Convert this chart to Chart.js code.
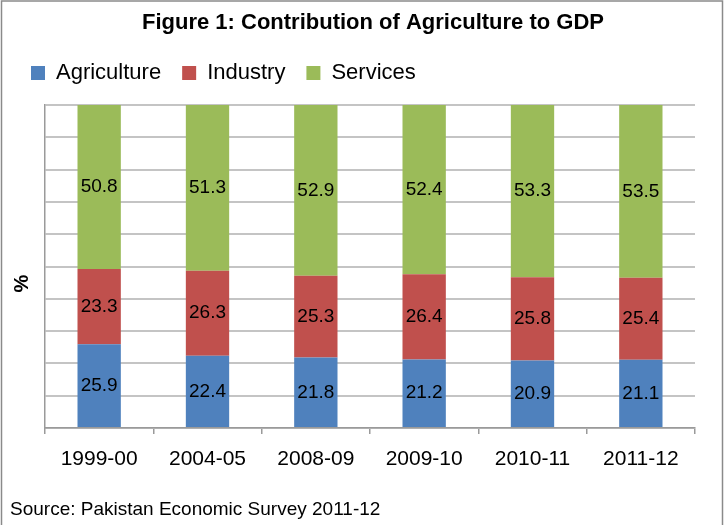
<!DOCTYPE html>
<html>
<head>
<meta charset="utf-8">
<script src="https://cdn.jsdelivr.net/npm/chart.js@4"></script>
<style>
  html, body { margin: 0; padding: 0; background: #fff; }
  #wrap { width: 724px; height: 525px; }
</style>
</head>
<body>
<div id="wrap"><canvas id="chart"></canvas></div>
<script>
const years = ["1999-00", "2004-05", "2008-09", "2009-10", "2010-11", "2011-12"];
const agriculture = [25.9, 22.4, 21.8, 21.2, 20.9, 21.1];
const industry = [23.3, 26.3, 25.3, 26.4, 25.8, 25.4];
const services = [50.8, 51.3, 52.9, 52.4, 53.3, 53.5];

const FONT = "'Liberation Sans', Arial, sans-serif";

// frame, heading, "%" label and the values inside the bar segments
const extras = {
    id: "extras",
    beforeLayout(chart) {
        // a bit more room between legend and plot than chart.js gives
        const legend = chart.legend;
        if (legend && !legend._patched) {
            const fit = legend.fit;
            legend.fit = function () {
                fit.call(this);
                this.height += 11;
            };
            legend._patched = true;
        }
    },
    beforeDraw(chart) {
        const ctx = chart.ctx;
        ctx.save();
        ctx.fillStyle = "#fff";
        ctx.fillRect(0, 0, chart.width, chart.height);
        ctx.strokeStyle = "#8a8a8a";
        ctx.lineWidth = 1.5;
        ctx.strokeRect(1.5, 1, chart.width - 3, chart.height + 10);
        ctx.restore();
    },
    afterDatasetsDraw(chart) {
        const ctx = chart.ctx;
        ctx.save();
        ctx.font = `19px ${FONT}`;
        ctx.fillStyle = "#000";
        ctx.textAlign = "center";
        ctx.textBaseline = "middle";
        chart.data.datasets.forEach((ds, i) => {
            chart.getDatasetMeta(i).data.forEach((bar, j) => {
                const { x, y, base } = bar.getProps(["x", "y", "base"], true);
                ctx.fillText(ds.data[j].toFixed(1), x, (y + base) / 2);
            });
        });
        ctx.restore();
    },
    afterDraw(chart) {
        const { ctx, chartArea } = chart;
        ctx.save();
        ctx.fillStyle = "#000";
        ctx.textAlign = "center";
        ctx.textBaseline = "middle";
        ctx.font = `bold 22px ${FONT}`;
        ctx.fillText("Figure 1: Contribution of Agriculture to GDP", 373, 23);
        ctx.translate(chartArea.left - 23, (chartArea.top + chartArea.bottom) / 2 + 17);
        ctx.rotate(-Math.PI / 2);
        ctx.font = `bold 20px ${FONT}`;
        ctx.fillText("%", 0, 0);
        ctx.restore();
    }
};

const ctx = document.getElementById("chart").getContext("2d");
new Chart(ctx, {
    type: "bar",
    data: {
        labels: years,
        datasets: [
            { label: "Agriculture", data: agriculture, backgroundColor: "#4f81bd" },
            { label: "Industry", data: industry, backgroundColor: "#c0504d" },
            { label: "Services", data: services, backgroundColor: "#9bbb59" }
        ].map(d => Object.assign(d, { borderWidth: 0, barPercentage: 0.4, categoryPercentage: 1 }))
    },
    options: {
        responsive: true,
        maintainAspectRatio: false,
        animation: false,
        layout: { padding: { left: 10, right: 29, top: 41, bottom: 0 } },
        plugins: {
            legend: {
                position: "top",
                align: "start",
                labels: {
                    color: "#000",
                    font: { family: FONT, size: 22 },
                    boxWidth: 14,
                    boxHeight: 14,
                    padding: 21
                }
            },
            subtitle: {
                display: true,
                position: "bottom",
                align: "start",
                text: "Source: Pakistan Economic Survey 2011-12",
                color: "#000",
                font: { family: FONT, size: 19, weight: "normal" },
                padding: { top: 13, bottom: 4 }
            },
            tooltip: { enabled: false }
        },
        scales: {
            x: {
                stacked: true,
                grid: { drawOnChartArea: false, drawTicks: true, tickLength: 6, color: "#9a9a9a", lineWidth: 1.5 },
                border: { color: "#9a9a9a", width: 1.5 },
                ticks: { color: "#000", font: { family: FONT, size: 21 }, padding: 13 }
            },
            y: {
                stacked: true,
                min: 0,
                max: 100,
                afterFit(scale) { scale.width = 35; },
                ticks: { display: false, stepSize: 10 },
                grid: { color: "#c4c4c4", lineWidth: 2, drawTicks: false },
                border: { color: "#9a9a9a", width: 1.5 }
            }
        }
    },
    plugins: [extras]
});
</script>
</body>
</html>
